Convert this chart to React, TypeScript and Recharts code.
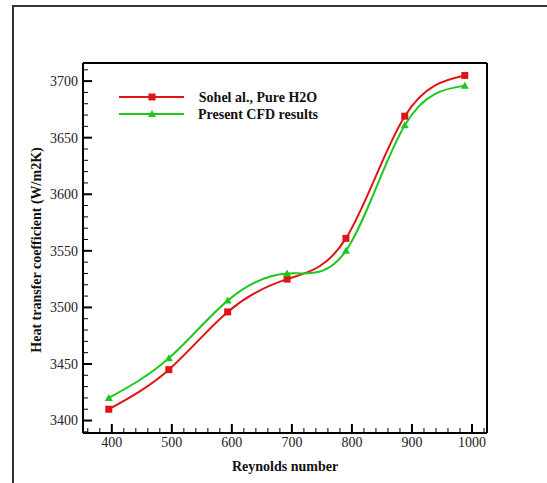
import React from "react";
import { LineChart, Line, XAxis, YAxis, Legend } from "recharts";

// Reynolds number at each sample
const reynolds = [395, 495, 593, 692, 790, 888, 988];
// heat transfer coefficient (W/m2K)
const sohel = [3410, 3445, 3496, 3525, 3561, 3669, 3705];
const present = [3420, 3455, 3506, 3530, 3550, 3661, 3696];

const xTicks = [360, 380, 400, 420, 440, 460, 480, 500, 520, 540, 560, 580, 600, 620, 640, 660, 680, 700, 720, 740, 760, 780, 800, 820, 840, 860, 880, 900, 920, 940, 960, 980, 1000, 1020];
const yTicks = [3390, 3400, 3410, 3420, 3430, 3440, 3450, 3460, 3470, 3480, 3490, 3500, 3510, 3520, 3530, 3540, 3550, 3560, 3570, 3580, 3590, 3600, 3610, 3620, 3630, 3640, 3650, 3660, 3670, 3680, 3690, 3700, 3710];

const data = reynolds.map((re, i) => ({ re, sohel: sohel[i], present: present[i] }));

const RED = "#e01414";
const GREEN = "#1ec81e";
const FONT = "'Liberation Serif', 'Times New Roman', serif";

const YTick = (props: any) => {
  const { x, y, payload } = props;
  const v = payload.value;
  const major = v % 50 === 0;
  const ax = x + 5;
  return (
    <g>
      <line x1={ax} x2={ax + (major ? 9 : 5)} y1={y} y2={y} stroke="#000" strokeWidth={major ? 2 : 1} />
      {major && (
        <text x={x} y={y} dy="0.35em" textAnchor="end" fontFamily={FONT} fontSize={14} fill="#222">
          {v}
        </text>
      )}
    </g>
  );
};

const XTick = (props: any) => {
  const { x, y, payload } = props;
  const v = payload.value;
  const major = v % 100 === 0;
  const ay = y - 4;
  return (
    <g>
      <line x1={x} x2={x} y1={ay} y2={ay - (major ? 9 : 5)} stroke="#000" strokeWidth={major ? 2 : 1} />
      {major && (
        <text x={x} y={y} dy="0.71em" textAnchor="middle" fontFamily={FONT} fontSize={14} fill="#222">
          {v}
        </text>
      )}
    </g>
  );
};

const Square = (props: any) => {
  const { cx, cy, index } = props;
  return <rect key={"s" + index} x={cx - 3.5} y={cy - 3.5} width={7} height={7} fill={RED} />;
};

const Triangle = (props: any) => {
  const { cx, cy, index } = props;
  return <polygon key={"t" + index} points={`${cx},${cy - 4} ${cx - 4},${cy + 3} ${cx + 4},${cy + 3}`} fill={GREEN} />;
};

const legendItems = [
  { label: "Sohel al., Pure H2O", color: RED, marker: "square" },
  { label: "Present CFD results", color: GREEN, marker: "triangle" },
];

const LegendBox = () => (
  <svg width={230} height={36} style={{ overflow: "visible" }}>
    {legendItems.map((it, i) => {
      const y = 9 + i * 17;
      return (
        <g key={it.label}>
          <line x1={4} x2={69} y1={y} y2={y} stroke={it.color} strokeWidth={2} />
          {it.marker === "square" ? (
            <rect x={33.5} y={y - 3.5} width={7} height={7} fill={it.color} />
          ) : (
            <polygon points={`37,${y - 4} 33,${y + 3} 41,${y + 3}`} fill={it.color} />
          )}
          <text x={143} y={y} dy="0.35em" textAnchor="middle" fontFamily={FONT} fontWeight="bold" fontSize={14} fill="#111">
            {it.label}
          </text>
        </g>
      );
    })}
  </svg>
);

export default function App() {
  return (
    <div style={{ position: "fixed", left: 0, top: 0, width: 547, height: 483, background: "#fff", overflow: "hidden" }}>
      <div
        style={{
          position: "absolute", left: 12, top: 5, width: 600, height: 600,
          borderLeft: "2px solid #333", borderTop: "2px solid #333",
        }}
      />
      <div style={{ position: "absolute", left: 0, top: 0 }}>
        <LineChart width={547} height={483} data={data} margin={{ top: 62, right: 59, left: 23, bottom: 0 }}>
          <XAxis
            dataKey="re" type="number" domain={[352, 1025]} ticks={xTicks} interval={0}
            height={50} tickSize={0} tickMargin={4} tick={<XTick />}
            axisLine={{ stroke: "#000", strokeWidth: 2 }}
            label={(p: any) => {
              const vb = p.viewBox;
              return (
                <text x={vb.x + vb.width / 2} y={vb.y + 38} textAnchor="middle" fontFamily={FONT} fontWeight="bold" fontSize={14} fill="#111">
                  Reynolds number
                </text>
              );
            }}
          />
          <XAxis xAxisId="top" orientation="top" type="number" domain={[352, 1025]} height={1} tick={false} tickLine={false} axisLine={{ stroke: "#000", strokeWidth: 2 }} />
          <YAxis
            type="number" domain={[3389, 3716]} ticks={yTicks} interval={0}
            width={60} tickSize={0} tickMargin={5} tick={<YTick />}
            axisLine={{ stroke: "#000", strokeWidth: 2 }}
            label={(p: any) => {
              const vb = p.viewBox;
              const cx = vb.x + 13;
              const cy = vb.y + vb.height / 2 + 2;
              return (
                <text x={cx} y={cy} dy="0.35em" textAnchor="middle" transform={`rotate(-90 ${cx} ${cy})`} fontFamily={FONT} fontWeight="bold" fontSize={14} fill="#111">
                  Heat transfer coefficient (W/m2K)
                </text>
              );
            }}
          />
          <YAxis yAxisId="right" orientation="right" type="number" domain={[3389, 3716]} width={1} tick={false} tickLine={false} axisLine={{ stroke: "#000", strokeWidth: 2 }} />
          <Legend
            layout="vertical" align="center" verticalAlign="middle"
            wrapperStyle={{ left: 115, top: 88, width: 230, height: 36 }}
            content={<LegendBox />}
          />
          <Line type="natural" dataKey="sohel" stroke={RED} strokeWidth={2} dot={Square} activeDot={false} isAnimationActive={false} />
          <Line type="natural" dataKey="present" stroke={GREEN} strokeWidth={2} dot={Triangle} activeDot={false} isAnimationActive={false} />
        </LineChart>
      </div>
    </div>
  );
}
